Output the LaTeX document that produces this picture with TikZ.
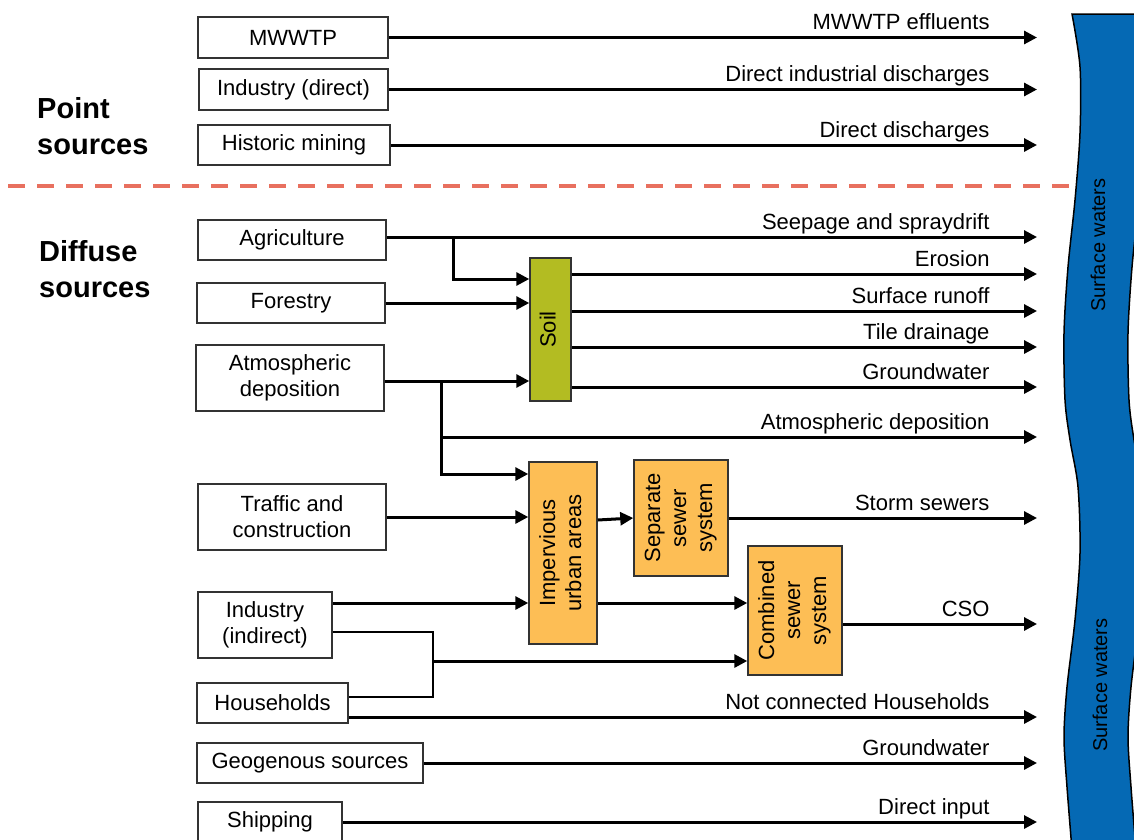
\documentclass[tikz,border=0pt]{standalone}
\usepackage{fontspec}
\setmainfont{Liberation Sans}
\usepackage{tikz}
\usetikzlibrary{arrows.meta}

\definecolor{riverblue}{HTML}{0569B4}
\definecolor{soilgreen}{HTML}{B3BC22}
\definecolor{urbanorange}{HTML}{FDBE55}
\definecolor{splitred}{HTML}{E8705F}
\definecolor{boxgray}{HTML}{333333}

\newcommand{\vtext}[1]{\rotatebox{90}{\begin{tabular}{@{}c@{}}#1\end{tabular}}}

\tikzset{
	srcbox/.style={draw=boxgray, line width=1.5pt, fill=white, inner sep=0pt, align=center,
		font=\fontsize{22}{26}\selectfont},
	procbox/.style={srcbox, fill=urbanorange},
	flow/.style={line width=3pt, -{Triangle[length=13pt,width=13pt]}},
	conn/.style={line width=2.5pt},
	flowlbl/.style={anchor=base east, xshift=-46pt, yshift=8pt, inner sep=0pt,
		font=\fontsize{22}{26}\selectfont},
	heading/.style={anchor=west, align=left, inner sep=0pt, font=\fontsize{29}{36}\selectfont\bfseries}
}

\begin{document}
\begin{tikzpicture}[x=1pt,y=-1pt]
	\clip (0,0) rectangle (1134,839);
	\fill[white] (0,0) rectangle (1134,839);

	% surface waters
	\filldraw[fill=riverblue, draw=black, line width=1.5pt]
		plot[smooth] coordinates {(1072,14) (1080,67) (1080,133) (1075,200) (1068,267) (1064,333)
			(1065,400) (1070,440) (1078,487) (1080,553) (1075,620) (1067,687) (1064,737) (1067,787) (1072,850)}
		-- (1136,850)
		-- plot[smooth] coordinates {(1136,850) (1131,787) (1128,737) (1131,687) (1139,620) (1144,553)
			(1142,487) (1134,440) (1129,400) (1128,333) (1132,267) (1139,200) (1144,133) (1144,67) (1136,14)}
		-- cycle;
	\node[rotate=90, font=\fontsize{20}{24}\selectfont] (sw1) at (1098,245) {Surface waters};
	\node[rotate=90, font=\fontsize{20}{24}\selectfont] (sw2) at (1100,685) {Surface waters};
	\coordinate (sw) at (1037,0);

	% point / diffuse split
	\draw[splitred, line width=4pt, dash pattern=on 17pt off 12pt] (8,186) -- (1072,186);
	\node[heading] (point) at (37,126) {Point\\sources};
	\node[heading] (diffuse) at (39,269) {Diffuse\\sources};

	% sources
	\node[srcbox, minimum width=190, minimum height=41] (mwwtp) at (293,37.5) {MWWTP};
	\node[srcbox, minimum width=189, minimum height=41] (inddir) at (293.5,89.5) {Industry (direct)};
	\node[srcbox, minimum width=192, minimum height=40] (mining) at (294,145) {Historic mining};
	\node[srcbox, minimum width=188, minimum height=40] (agri) at (292,240) {Agriculture};
	\node[srcbox, minimum width=188, minimum height=40] (forest) at (291,303) {Forestry};
	\node[srcbox, minimum width=188, minimum height=66] (atmo) at (290,378) {Atmospheric\\deposition};
	\node[srcbox, minimum width=188, minimum height=66] (traffic) at (292,517) {Traffic and\\construction};
	\node[srcbox, minimum width=134, minimum height=66] (indind) at (265,625) {Industry\\(indirect)};
	\node[srcbox, minimum width=151, minimum height=40] (house) at (272.5,703) {Households};
	\node[srcbox, minimum width=226, minimum height=40] (geo) at (310,763) {Geogenous sources};
	\node[srcbox, minimum width=144, minimum height=40] (ship) at (270,822) {Shipping};

	% pathways
	\node[srcbox, fill=soilgreen, minimum width=41, minimum height=143] (soil) at (550.5,329.5) {\vtext{Soil}};
	\node[procbox, minimum width=68, minimum height=182] (imperv) at (563,553) {\vtext{Impervious\\urban areas}};
	\node[procbox, minimum width=94, minimum height=116] (sepsew) at (681,518) {\vtext{Separate\\sewer\\system}};
	\node[procbox, minimum width=94, minimum height=129] (combsew) at (795,610.5) {\vtext{Combined\\sewer\\system}};

	% point sources
	\draw[flow] (mwwtp.east) -- (mwwtp.east -| sw) node[flowlbl]{MWWTP effluents};
	\draw[flow] (inddir.east) -- (inddir.east -| sw) node[flowlbl]{Direct industrial discharges};
	\draw[flow] (mining.east) -- (mining.east -| sw) node[flowlbl]{Direct discharges};

	% agriculture, forestry, atmosphere
	\draw[flow] ([yshift=3pt]agri.east) -- ([yshift=3pt]agri.east -| sw) node[flowlbl]{Seepage and spraydrift};
	\draw[flow] ([yshift=3pt]agri.east -| 453,0) |- (soil.west |- 0,279);
	\draw[flow] (forest.east) -- (soil.west |- forest.east);
	\draw[flow] ([yshift=-3pt]atmo.east) -- (soil.west |- 0,381);
	\draw[flow] ([yshift=-3pt]atmo.east -| 441,0) |- (imperv.west |- 0,474);
	\coordinate (atmoj) at (441,437);
	\draw[flow] (atmoj) -- (atmoj -| sw) node[flowlbl]{Atmospheric deposition};

	% soil outputs
	\draw[flow] (soil.east |- 0,274) -- (sw |- 0,274) node[flowlbl]{Erosion};
	\draw[flow] (soil.east |- 0,311) -- (sw |- 0,311) node[flowlbl]{Surface runoff};
	\draw[flow] (soil.east |- 0,347) -- (sw |- 0,347) node[flowlbl]{Tile drainage};
	\draw[flow] (soil.east |- 0,387) -- (sw |- 0,387) node[flowlbl]{Groundwater};

	% urban
	\draw[flow] (traffic.east) -- (imperv.west |- traffic.east);
	\draw[flow] (indind.east |- 0,603) -- (imperv.west |- 0,603);
	\draw[conn] (indind.east |- 0,632) -| (433,697) -- (house.east |- 0,697);
	\coordinate (hhj) at (433,661);
	\draw[flow] (hhj) -- (combsew.west |- hhj);
	\draw[flow] (imperv.east |- 0,520) -- (sepsew.west);
	\draw[flow] (imperv.east |- 0,603) -- (combsew.west |- 0,603);
	\draw[flow] (sepsew.east) -- (sepsew.east -| sw) node[flowlbl]{Storm sewers};
	\draw[flow] (combsew.east |- 0,624) -- (sw |- 0,624) node[flowlbl]{CSO};

	% remaining diffuse sources
	\draw[flow] (house.east |- 0,717) -- (sw |- 0,717) node[flowlbl]{Not connected Households};
	\draw[flow] (geo.east) -- (geo.east -| sw) node[flowlbl]{Groundwater};
	\draw[flow] (ship.east) -- (ship.east -| sw) node[flowlbl]{Direct input};
\end{tikzpicture}
\end{document}
